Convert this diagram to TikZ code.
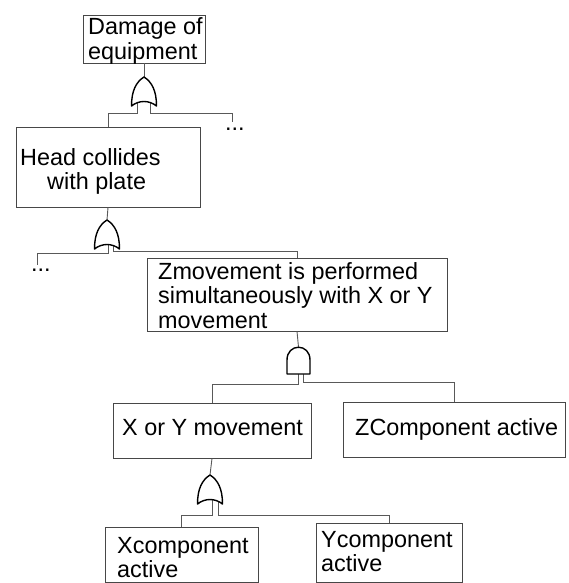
\documentclass[tikz,border=0pt]{standalone}
\usepackage{fontspec}
\setmainfont{Liberation Sans}
\begin{document}
\begin{tikzpicture}[x=1pt,y=-1pt,
  box/.style={draw=black!72, line width=0.9pt, inner sep=0pt, rectangle},
  txt/.style={inner sep=0pt, anchor=base west, font=\fontsize{23.4}{24.5}\selectfont},
  wire/.style={draw=black!65, line width=0.9pt},
  gateline/.style={draw=black, line width=1.4pt, fill=white, line join=round},
  orgate/.pic={\path[gateline] (0,0) .. controls (8,5) and (12.5,14) .. (12.5,29)
      .. controls (5,23) and (-5,23) .. (-12.5,29)
      .. controls (-12.5,14) and (-8,5) .. (0,0) -- cycle;},
  andgate/.pic={\path[gateline] (-11.5,27) -- (-11.5,13) .. controls (-11.5,-4) and (11.5,-4) .. (11.5,13)
      -- (11.5,27) -- cycle;}
]
\useasboundingbox (0,0) rectangle (568,583);

% boxes
\node[box, minimum width=122, minimum height=48] (b1) at (144,39) {};
\node[box, minimum width=184, minimum height=80] (b2) at (108,167) {};
\node[box, minimum width=300, minimum height=73] (b3) at (297,294.5) {};
\node[box, minimum width=198, minimum height=55] (b4) at (212,430.5) {};
\node[box, minimum width=222, minimum height=55] (b5) at (454,429.5) {};
\node[box, minimum width=153, minimum height=55] (b6) at (181.5,554.5) {};
\node[box, minimum width=146, minimum height=59] (b7) at (389,552.5) {};

% texts
\node[txt] (t1) at (88,35) {\vtop{\hbox{Damage of}\hbox{equipment}}};
\node[txt] (t2) at (20,165) {\vtop{\hbox{Head collides}\hbox{\hspace*{27pt}with plate}}};
\node[txt] (t3) at (158,279) {\vtop{\hbox{Zmovement is performed}\hbox{simultaneously with X or Y}\hbox{movement}}};
\node[txt] (t4) at (122,435) {X or Y movement};
\node[txt] (t5) at (355,435) {ZComponent active};
\node[txt] (t6) at (117,553) {\vtop{\hbox{Xcomponent}\hbox{active}}};
\node[txt] (t7) at (321,547) {\vtop{\hbox{Ycomponent}\hbox{active}}};
\node[txt] (dots1) at (225,130) {...};
\node[txt] (dots2) at (31,271) {...};

% gate positions and free ends
\coordinate (g1) at (144,77);
\coordinate (g2) at (107,220);
\coordinate (g3) at (298.5,347);
\coordinate (g4) at (210,475);
\coordinate (d1) at (232,122);
\coordinate (d2) at (37,265);

% connectors
\draw[wire] (b1.south) -- (g1);
\draw[wire] ([shift={(-7,20)}]g1) -- ++(0,16) -| (b2.north);
\draw[wire] ([shift={(6,20)}]g1) -- ++(0,16) -| (d1);
\draw[wire] (b2.south) -- (g2);
\draw[wire] ([shift={(1,20)}]g2) -- ++(0,13) -| (d2);
\draw[wire] ([shift={(6,20)}]g2) -- ++(0,11) -| (b3.north);
\draw[wire] (b3.south) -- (g3);
\draw[wire] ([shift={(-0.5,20)}]g3) -- ++(0,17) -| (b4.north);
\draw[wire] ([shift={(4.5,20)}]g3) -- ++(0,15) -| (b5.north);
\draw[wire] (b4.south) -- (g4);
\draw[wire] ([shift={(2,20)}]g4) -- ++(0,20) -| (b6.north);
\draw[wire] ([shift={(8,20)}]g4) -- ++(0,20) -| (b7.north);

% gates
\pic at (g1) {orgate};
\pic at (g2) {orgate};
\pic at (g3) {andgate};
\pic at (g4) {orgate};
\end{tikzpicture}
\end{document}
